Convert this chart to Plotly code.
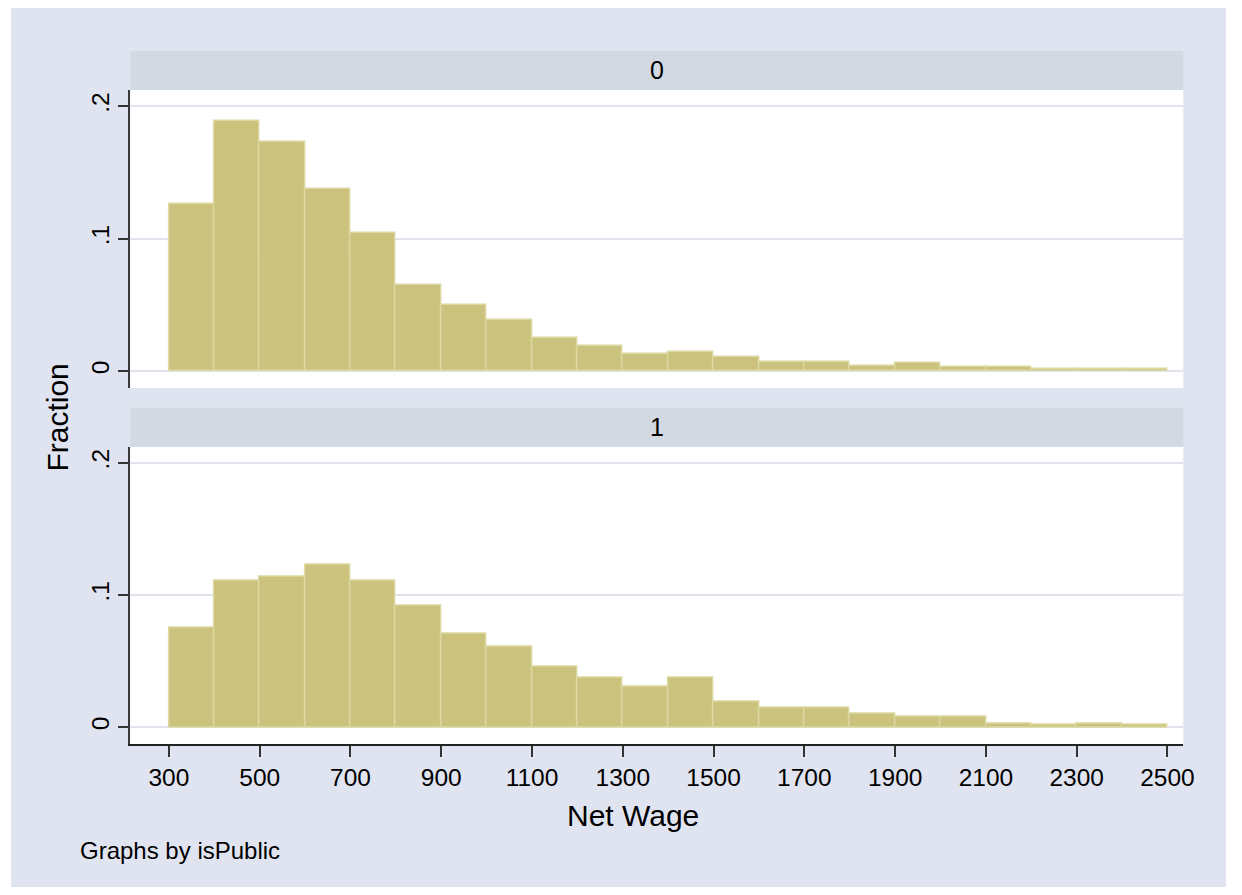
import plotly.graph_objects as go

# page is 1242x895; the html body has an 8px margin, so the figure is 16px smaller
OFF = 8
W, H = 1242 - 2 * OFF, 895 - 2 * OFF

# ---- data ----
bin_starts = list(range(300, 2500, 100))  # 22 bins of width 100
bin_width = 100
frac_public0 = [0.126, 0.189, 0.1726, 0.1374, 0.1042, 0.0654, 0.0503, 0.0387,
                0.0247, 0.0191, 0.0126, 0.0141, 0.0106, 0.0070, 0.0070, 0.0040,
                0.0058, 0.0028, 0.0028, 0.0013, 0.0013, 0.0013]
frac_public1 = [0.0753, 0.1111, 0.1136, 0.1229, 0.1106, 0.0920, 0.0708, 0.0607,
                0.0461, 0.0373, 0.0310, 0.0373, 0.0194, 0.0144, 0.0144, 0.0101,
                0.0083, 0.0078, 0.0030, 0.0020, 0.0025, 0.0020]
panel_labels = ["0", "1"]
x_tickvals = list(range(300, 2501, 200))
y_tickvals = [0, 0.1, 0.2]
y_ticktext = ["0", ".1", ".2"]

# ---- style ----
BG = "#e0e4f0"
HEAD = "#d3d9e3"
GRID = "#dfe4ef"
BAR = "#cbc37d"
BAR_LINE = "#dcd8a0"
FONT = "Liberation Sans, Arial, sans-serif"

def fx(px):
    return (px - OFF) / W

def fy(py):
    return (H - (py - OFF)) / H

x_dom = [fx(131.5), fx(1194)]
top_dom = [fy(388), fy(90)]
bot_dom = [fy(744), fy(446.7)]
x_range = [215.1, 2535]
y_range = [-0.0127, 0.2122]

fig = go.Figure()
for vals, xa, ya in [(frac_public0, "x", "y"), (frac_public1, "x2", "y2")]:
    fig.add_trace(go.Bar(
        x=bin_starts, y=vals, width=bin_width, offset=0,
        marker=dict(color=BAR, line=dict(color=BAR_LINE, width=1.5)),
        xaxis=xa, yaxis=ya, showlegend=False, hoverinfo="x+y"))

yax = dict(range=y_range, tickvals=y_tickvals, ticktext=y_ticktext, tickangle=-90,
           ticks="outside", ticklen=10, tickwidth=1.5, tickcolor="#333333",
           showline=True, linecolor="#3a3a3a", linewidth=2,
           showgrid=True, gridcolor=GRID, gridwidth=2, zeroline=False,
           tickfont=dict(family=FONT, size=24.5, color="black"), fixedrange=True)

fig.update_layout(
    width=W, height=H, autosize=False,
    margin=dict(l=0, r=0, t=0, b=0),
    paper_bgcolor="white",
    plot_bgcolor="rgba(0,0,0,0)",
    bargap=0,
    font=dict(family=FONT, color="black"),
    xaxis=dict(domain=x_dom, range=x_range, anchor="y", showticklabels=False,
               showgrid=False, zeroline=False, showline=False, ticks=""),
    yaxis=dict(domain=top_dom, anchor="x", **yax),
    xaxis2=dict(domain=x_dom, range=x_range, anchor="y2", tickvals=x_tickvals,
                ticks="outside", ticklen=11, tickwidth=1.5, tickcolor="#333333",
                showline=True, linecolor="#222222", linewidth=2,
                showgrid=False, zeroline=False,
                tickfont=dict(family=FONT, size=24.5, color="black")),
    yaxis2=dict(domain=bot_dom, anchor="x2", **yax),
)

shapes = [
    dict(type="rect", xref="paper", yref="paper", x0=fx(11), x1=fx(1237), y0=fy(887), y1=fy(8),
         fillcolor=BG, line=dict(width=0), layer="below"),
    dict(type="rect", xref="paper", yref="paper", x0=x_dom[0], x1=x_dom[1], y0=top_dom[0], y1=top_dom[1],
         fillcolor="white", line=dict(width=0), layer="below"),
    dict(type="rect", xref="paper", yref="paper", x0=x_dom[0], x1=x_dom[1], y0=bot_dom[0], y1=bot_dom[1],
         fillcolor="white", line=dict(width=0), layer="below"),
    dict(type="rect", xref="paper", yref="paper", x0=x_dom[0], x1=x_dom[1], y0=fy(90), y1=fy(51),
         fillcolor=HEAD, line=dict(width=0), layer="below"),
    dict(type="rect", xref="paper", yref="paper", x0=x_dom[0], x1=x_dom[1], y0=fy(446.7), y1=fy(407.7),
         fillcolor=HEAD, line=dict(width=0), layer="below"),
]
fig.update_layout(shapes=shapes)

ann = [
    dict(text=panel_labels[0], x=fx(662.75), y=fy(70.5), size=25, angle=0),
    dict(text=panel_labels[1], x=fx(662.75), y=fy(427.2), size=25, angle=0),
    dict(text="Fraction", x=fx(57), y=fy(418), size=30, angle=-90),
    dict(text="Net Wage", x=fx(639), y=fy(815), size=30, angle=0),
]
for a in ann:
    fig.add_annotation(text=a["text"], x=a["x"], y=a["y"], xref="paper", yref="paper",
                       xanchor="center", yanchor="middle", showarrow=False, textangle=a["angle"],
                       font=dict(family=FONT, size=a["size"], color="black"))
fig.add_annotation(text="Graphs by isPublic", x=fx(79), y=fy(850), xref="paper", yref="paper",
                   xanchor="left", yanchor="middle", showarrow=False,
                   font=dict(family=FONT, size=24, color="black"))

fig.write_html("out.html", config={"displayModeBar": False, "responsive": False})
